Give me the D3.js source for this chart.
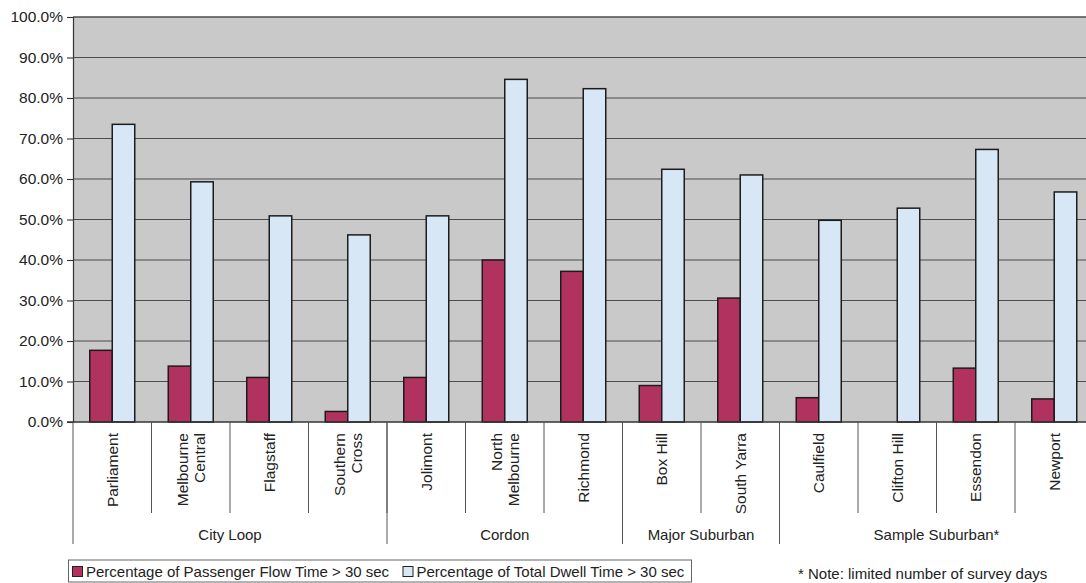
<!DOCTYPE html>
<html>
<head>
<meta charset="utf-8">
<script src="https://cdn.jsdelivr.net/npm/d3@7"></script>
<style>
  html, body { margin: 0; padding: 0; background: #fff; }
  svg { display: block; font-family: "Liberation Sans", Arial, sans-serif; }
</style>
</head>
<body>
<svg id="chart" width="1086" height="583"></svg>
<script>
// ---- Data ----
const categories = [
  ["Parliament"], ["Melbourne", "Central"], ["Flagstaff"], ["Southern", "Cross"],
  ["Jolimont"], ["North", "Melbourne"], ["Richmond"],
  ["Box Hill"], ["South Yarra"],
  ["Caulfield"], ["Clifton Hill"], ["Essendon"], ["Newport"]
];
const groups = [
  { name: "City Loop", count: 4 },
  { name: "Cordon", count: 3 },
  { name: "Major Suburban", count: 2 },
  { name: "Sample Suburban*", count: 4 }
];
const passengerFlow = [17.7, 13.8, 11.0, 2.6, 11.0, 40.0, 37.2, 9.0, 30.6, 6.0, 0, 13.3, 5.7];
const totalDwell   = [73.5, 59.3, 50.9, 46.2, 50.9, 84.6, 82.3, 62.4, 61.0, 49.8, 52.8, 67.3, 56.8];
const seriesNames = ["Percentage of Passenger Flow Time > 30 sec", "Percentage of Total Dwell Time > 30 sec"];
const yTicks = [0, 10, 20, 30, 40, 50, 60, 70, 80, 90, 100];
const noteText = "* Note: limited number of survey days";

(function () {
// ---- Layout ----
const svg = d3.select("#chart");
const pLeft = 73, pTop = 17, pBottom = 422;
const step = 78.5;
const pRight = pLeft + step * categories.length;
const colors = ["#b2325f", "#d7e7f6"];

const x0 = d3.scaleBand().domain(d3.range(categories.length)).range([pLeft, pRight]).paddingInner(0).paddingOuter(0);
const x1 = d3.scaleBand().domain([0, 1]).range([0, x0.bandwidth()]).paddingInner(0).paddingOuter(0.745);
const y = d3.scaleLinear().domain([0, 100]).range([pBottom, pTop]);

// plot background
svg.append("rect").attr("x", pLeft).attr("y", pTop).attr("width", pRight - pLeft).attr("height", pBottom - pTop)
  .attr("fill", "#c9c9c9");

// gridlines
svg.append("g").selectAll("line").data(yTicks.filter(d => d > 0)).join("line")
  .attr("x1", pLeft).attr("x2", pRight)
  .attr("y1", d => y(d)).attr("y2", d => y(d))
  .attr("stroke", "#4d4d4d").attr("stroke-width", d => d === 100 ? 1.5 : 1.1);

// y axis
const yAxis = d3.axisLeft(y).tickValues(yTicks).tickSize(6).tickPadding(4)
  .tickFormat(d => d.toFixed(1) + "%");
const gy = svg.append("g").attr("transform", `translate(${pLeft},0)`).call(yAxis);
gy.select(".domain").attr("stroke", "#333").attr("stroke-width", 1.2);
gy.selectAll(".tick line").attr("stroke", "#333").attr("stroke-width", 1.1);
gy.selectAll(".tick text").attr("font-size", "15.5px").attr("fill", "#222")
  .attr("font-family", "Liberation Sans, Arial, sans-serif");

// bars
const data = categories.map((c, i) => [passengerFlow[i], totalDwell[i]]);
const cat = svg.append("g").selectAll("g").data(data).join("g")
  .attr("transform", (d, i) => `translate(${x0(i)},0)`);
cat.selectAll("rect").data(d => d.map((v, s) => ({ v, s })).filter(o => o.v > 0)).join("rect")
  .attr("x", d => x1(d.s)).attr("width", x1.bandwidth())
  .attr("y", d => y(d.v)).attr("height", d => y(0) - y(d.v))
  .attr("fill", d => colors[d.s]).attr("stroke", "#1c1c1c").attr("stroke-width", 1.5);

// x baseline
svg.append("line").attr("x1", pLeft - 6).attr("x2", pRight).attr("y1", pBottom).attr("y2", pBottom)
  .attr("stroke", "#333").attr("stroke-width", 1.4);

// category separators
const catSep = d3.range(1, categories.length);
svg.append("g").selectAll("line").data(catSep).join("line")
  .attr("x1", i => x0(i)).attr("x2", i => x0(i))
  .attr("y1", pBottom).attr("y2", 513)
  .attr("stroke", "#555").attr("stroke-width", 1);

// group separators
let acc = 0;
const groupBounds = groups.map(g => { const b = { name: g.name, start: acc, end: acc + g.count }; acc += g.count; return b; });
const gx = i => i < categories.length ? x0(i) : pRight;
const groupLines = [0].concat(groupBounds.map(g => g.end));
svg.append("g").selectAll("line").data(groupLines).join("line")
  .attr("x1", gx).attr("x2", gx)
  .attr("y1", pBottom).attr("y2", 544)
  .attr("stroke", "#555").attr("stroke-width", 1);

// category labels (rotated)
const labels = svg.append("g").selectAll("g").data(categories).join("g")
  .attr("transform", (d, i) => `translate(${x0(i) + x0.bandwidth() / 2},433) rotate(-90)`);
labels.each(function (lines) {
  const g = d3.select(this);
  const lh = 17.5;
  lines.forEach((t, k) => {
    g.append("text").text(t)
      .attr("x", 0)
      .attr("y", (k - (lines.length - 1) / 2) * lh)
      .attr("dy", "0.36em")
      .attr("text-anchor", "end")
      .attr("font-size", "15.5px").attr("fill", "#222");
  });
});

// group labels
svg.append("g").selectAll("text").data(groupBounds).join("text")
  .attr("x", g => (gx(g.start) + gx(g.end)) / 2)
  .attr("y", 540)
  .attr("text-anchor", "middle").attr("font-size", "15px").attr("fill", "#222")
  .text(g => g.name);

// legend
const lg = svg.append("g");
lg.append("rect").attr("x", 68.5).attr("y", 560).attr("width", 623).attr("height", 22)
  .attr("fill", "#fff").attr("stroke", "#666").attr("stroke-width", 1);
const legendItems = [{ x: 72.5, name: seriesNames[0], s: 0 }, { x: 403, name: seriesNames[1], s: 1 }];
legendItems.forEach(it => {
  lg.append("rect").attr("x", it.x).attr("y", 566.5).attr("width", 10).attr("height", 10)
    .attr("fill", colors[it.s]).attr("stroke", "#222").attr("stroke-width", 1);
  lg.append("text").attr("x", it.x + 13.5).attr("y", 577).attr("font-size", "15px").attr("fill", "#222")
    .text(it.name);
});

// note
svg.append("text").attr("x", 798).attr("y", 578.5).attr("font-size", "15px").attr("fill", "#222")
  .text(noteText);
})();
</script>
</body>
</html>
